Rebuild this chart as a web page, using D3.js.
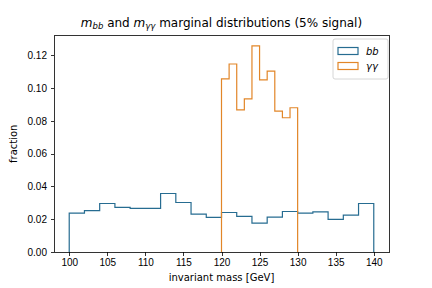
<!DOCTYPE html>
<html>
<head>
<meta charset="utf-8">
<script src="https://cdn.jsdelivr.net/npm/d3@7"></script>
<style>
  body { margin: 0; background: #fff; }
  svg { font-family: "DejaVu Sans", sans-serif; }
  .axis path, .axis line { stroke: #000; stroke-width: 0.8px; shape-rendering: crispEdges; }
  .axis text { font-size: 10px; fill: #000; }
</style>
</head>
<body>
<div id="chart"></div>
<script>
// bin edges and fractions
const bbEdges = [100, 102, 104, 106, 108, 110, 112, 114, 116, 118, 120, 122, 124, 126, 128, 130, 132, 134, 136, 138, 140];
const bbValues = [0.0237, 0.0253, 0.0296, 0.0272, 0.0266, 0.0266, 0.0357, 0.0302, 0.0231, 0.0211,
  0.0241, 0.0217, 0.0176, 0.0213, 0.0247, 0.0237, 0.0245, 0.0199, 0.0225, 0.0296];
const yyEdges = [120, 121, 122, 123, 124, 125, 126, 127, 128, 129, 130];
const yyValues = [0.1056, 0.1147, 0.0867, 0.0934, 0.1258, 0.1050, 0.1104, 0.0859, 0.0819, 0.0880];
const xTicks = [100, 105, 110, 115, 120, 125, 130, 135, 140];
const yTicks = [0, 0.02, 0.04, 0.06, 0.08, 0.10, 0.12];
const seriesNames = ['bb', 'γγ'];
const colors = ['#266c91', '#e28628'];

const W = 432, H = 288;
const margin = { top: 35.5, right: 43, bottom: 36, left: 54 };

const svg = d3.select('#chart').append('svg')
  .attr('width', W).attr('height', H);

const x = d3.scaleLinear().domain([98, 142]).range([margin.left, W - margin.right]);
const yMax = d3.max(yyValues) * 1.05;
const y = d3.scaleLinear().domain([0, yMax]).range([H - margin.bottom, margin.top]);

// step outline like histtype='step'
function stepPath(edges, values) {
  const pts = [[edges[0], 0]];
  values.forEach((v, i) => {
    pts.push([edges[i], v]);
    pts.push([edges[i + 1], v]);
  });
  pts.push([edges[edges.length - 1], 0]);
  return d3.line().x(d => x(d[0])).y(d => y(d[1]))(pts);
}

svg.append('path')
  .attr('d', stepPath(bbEdges, bbValues))
  .attr('fill', 'none').attr('stroke', colors[0]).attr('stroke-width', 1.2);
svg.append('path')
  .attr('d', stepPath(yyEdges, yyValues))
  .attr('fill', 'none').attr('stroke', colors[1]).attr('stroke-width', 1.2);

// axes
svg.append('g').attr('class', 'axis')
  .attr('transform', `translate(0,${H - margin.bottom})`)
  .call(d3.axisBottom(x).tickValues(xTicks).tickSize(3.5).tickPadding(3.5).tickFormat(d3.format('d')))
  .call(g => g.select('.domain').remove());
svg.append('g').attr('class', 'axis')
  .attr('transform', `translate(${margin.left},0)`)
  .call(d3.axisLeft(y).tickValues(yTicks).tickSize(3.5).tickPadding(3.5).tickFormat(d3.format('.2f')))
  .call(g => g.select('.domain').remove());

// frame
svg.append('rect')
  .attr('x', margin.left).attr('y', margin.top)
  .attr('width', W - margin.right - margin.left)
  .attr('height', H - margin.bottom - margin.top)
  .attr('fill', 'none').attr('stroke', '#000').attr('stroke-width', 0.8)
  .attr('shape-rendering', 'crispEdges');

// labels
svg.append('text')
  .attr('x', (margin.left + W - margin.right) / 2).attr('y', 281)
  .attr('text-anchor', 'middle').attr('font-size', 10)
  .text('invariant mass [GeV]');
svg.append('text')
  .attr('transform', `translate(17,${(margin.top + H - margin.bottom) / 2}) rotate(-90)`)
  .attr('text-anchor', 'middle').attr('font-size', 10)
  .text('fraction');

const title = svg.append('text')
  .attr('x', (margin.left + W - margin.right) / 2).attr('y', 27)
  .attr('text-anchor', 'middle').attr('font-size', 12);
title.append('tspan').attr('font-style', 'italic').text('m');
title.append('tspan').attr('font-style', 'italic').attr('font-size', 8.5).attr('dy', 2).text('bb');
title.append('tspan').attr('dy', -2).text(' and ');
title.append('tspan').attr('font-style', 'italic').text('m');
title.append('tspan').attr('font-style', 'italic').attr('font-size', 8.5).attr('dy', 2).text('γγ');
title.append('tspan').attr('dy', -2).text(' marginal distributions (5% signal)');

// legend
const lx = 333, ly = 39;
svg.append('rect')
  .attr('x', lx).attr('y', ly).attr('width', 55).attr('height', 40)
  .attr('rx', 2).attr('fill', '#fff').attr('fill-opacity', 0.8)
  .attr('stroke', '#ccc').attr('stroke-width', 0.8);
seriesNames.forEach((name, i) => {
  const yy = ly + 12 + i * 15;
  svg.append('rect')
    .attr('x', lx + 5).attr('y', yy - 3.5).attr('width', 20).attr('height', 7)
    .attr('fill', 'none').attr('stroke', colors[i]).attr('stroke-width', 1.2);
  svg.append('text')
    .attr('x', lx + 33).attr('y', yy + 3.5)
    .attr('font-size', 10).attr('font-style', 'italic')
    .text(name);
});
</script>
</body>
</html>
